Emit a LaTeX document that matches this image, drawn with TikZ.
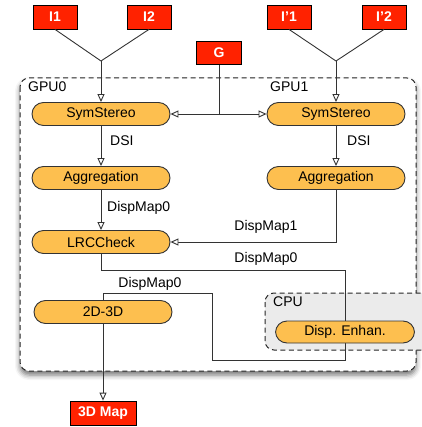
\documentclass[tikz,border=0pt]{standalone}
\usepackage{fontspec}
\setmainfont{Liberation Sans}
\usetikzlibrary{arrows.meta,shadows.blur}
\definecolor{boxred}{HTML}{FF2200}
\definecolor{boxorange}{HTML}{FDBF4F}
\definecolor{linegray}{HTML}{333333}
\definecolor{cpugray}{HTML}{EBEBEB}
\tikzset{
  redbox/.style={draw=black, line width=0.8pt, fill=boxred, text=white, font=\fontsize{14}{16}\selectfont\bfseries, minimum width=44pt, minimum height=24pt, inner sep=0pt},
  procbox/.style={draw=linegray, line width=0.9pt, fill=boxorange, rounded corners=11.5pt, minimum width=138pt, minimum height=23pt, inner sep=0pt, font=\fontsize{14}{16}\selectfont},
  conn/.style={draw=linegray, line width=0.9pt},
  arr/.style={conn, -{Triangle[open, length=8pt, width=7pt, fill=white]}},
  lbl/.style={font=\fontsize{14}{16}\selectfont, inner sep=0pt},
  groupbox/.style={dash pattern=on 5pt off 3.5pt, line width=1pt, draw=black!85, rounded corners=9pt},
}
\begin{document}
\begin{tikzpicture}[x=1pt, y=-1pt]
\useasboundingbox (0,0) rectangle (421,427);
% GPU box with shadow
\draw[groupbox, fill=white,
  blur shadow={shadow xshift=0pt, shadow yshift=-4pt, shadow blur radius=5pt, shadow opacity=55}]
  (20,78) rectangle (416,371);
\node[lbl, anchor=west] (gpu0) at (28,87) {GPU0};
\node[lbl, anchor=west] (gpu1) at (270,87) {GPU1};
% CPU box
\draw[groupbox, fill=cpugray] (265,293) rectangle (445,350);
\node[lbl, anchor=west] (cpu) at (273,302) {CPU};
% nodes
\node[redbox] (i1) at (55,17) {I1};
\node[redbox] (i2) at (149,17) {I2};
\node[redbox] (ip1) at (289,17) {I'1};
\node[redbox] (ip2) at (384,17) {I'2};
\node[redbox, minimum width=45pt, minimum height=23pt] (g) at (219,53) {G};
\node[redbox, minimum width=66pt] (map) at (103,413) {3D Map};
\coordinate (jl) at (101,61);
\coordinate (jr) at (336,61);
\coordinate (gj) at (219,114);
% connectors (drawn before process nodes so nodes cover them)
\draw[conn] (i1.south) -- (jl);
\draw[conn] (i2.south) -- (jl);
\draw[conn] (ip1.south) -- (jr);
\draw[conn] (ip2.south) -- (jr);
\node[procbox] (symL) at (101,114) {SymStereo};
\node[procbox] (symR) at (336,114) {SymStereo};
\node[procbox] (aggL) at (101,178) {Aggregation};
\node[procbox] (aggR) at (336,178) {Aggregation};
\node[procbox] (lrc) at (101,242) {LRCCheck};
\coordinate (c1) at (101,270);
\coordinate (c2) at (345,270);
\coordinate (c3) at (345,360);
\coordinate (c4) at (212,360);
\coordinate (c5) at (212,293);
\coordinate (c6) at (103,293);
\draw[conn] (lrc.south) -- (c1) -- (c2) -- (c3) -- (c4) -- (c5) -- (c6) -- (103,301);
\node[procbox] (d23) at (103,312) {2D-3D};
\node[procbox, minimum width=139pt, minimum height=22pt] (enh) at (345,332) {Disp. Enhan.};
\draw[arr] (jl) -- (symL.north);
\draw[arr] (jr) -- (symR.north);
\draw[conn] (g.south) -- (gj);
\draw[arr] (gj) -- (symL.east);
\draw[arr] (gj) -- (symR.west);
\draw[arr] (symL.south) -- (aggL.north);
\draw[arr] (symR.south) -- (aggR.north);
\draw[arr] (aggL.south) -- (lrc.north);
\draw[arr] (aggR.south) |- (lrc.east);
\draw[arr] (d23.south) -- (map.north);
% labels
\node[lbl, anchor=west] (dsiL) at (110,141) {DSI};
\node[lbl, anchor=west] (dsiR) at (347,141) {DSI};
\node[lbl, anchor=west] (dm0a) at (107,208) {DispMap0};
\node[lbl] (dm1) at (266,227) {DispMap1};
\node[lbl] (dm0b) at (266,259) {DispMap0};
\node[lbl] (dm0c) at (150,284) {DispMap0};
\end{tikzpicture}
\end{document}
